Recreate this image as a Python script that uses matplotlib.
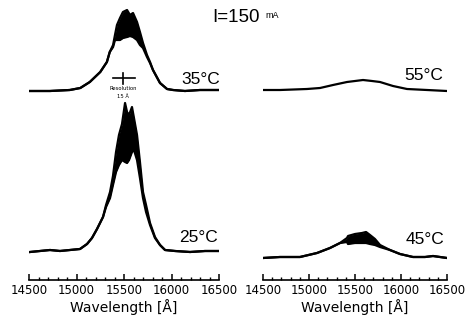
import matplotlib
matplotlib.use('Agg')
import matplotlib.pyplot as plt
from matplotlib.ticker import MultipleLocator

plt.rcParams['font.family'] = ['DejaVu Sans']

# --- data (wavelength in Angstrom, intensity in arb. units) ---
wl_35 = [14510, 14720, 14930, 15040, 15140, 15250, 15320, 15350, 15385, 15405, 15426, 15458, 15489,
         15532, 15563, 15595, 15637, 15668, 15700, 15742, 15774, 15805, 15879, 15953, 16016, 16142, 16300, 16490]
hi_35 = [0, 0, 1, 3, 9, 19, 29, 39, 46, 56, 66, 73, 79, 81, 76, 78, 69, 59, 48, 36, 29, 21, 8, 2, 1, 0, 1, 1]
lo_35 = [0, 0, 1, 3, 9, 19, 29, 39, 44, 51, 51, 51, 53, 54, 55, 54, 51, 46, 43, 34, 28, 21, 8, 2, 1, 0, 1, 1]

wl_25 = [14511, 14721, 14826, 15037, 15111, 15163, 15216, 15279, 15311, 15353, 15384, 15416, 15447, 15479,
         15511, 15532, 15553, 15584, 15605, 15637, 15668, 15700, 15732, 15774, 15826, 15879, 15932, 16037,
         16195, 16353, 16490]
hi_25 = [0, 2, 1, 3, 8, 14, 23, 35, 47, 60, 76, 100, 117, 128, 149, 140, 137, 145, 134, 117, 90, 60, 47,
         29, 15, 7, 2, 1, 0, 1, 1]
lo_25 = [0, 2, 1, 3, 8, 14, 23, 35, 45, 54, 67, 80, 87, 92, 90, 89, 92, 100, 102, 92, 74, 54, 40,
         27, 14, 7, 2, 1, 0, 1, 1]

wl_55 = [14500, 14685, 14978, 15120, 15261, 15413, 15500, 15587, 15685, 15772, 15913, 16065, 16283, 16500]
hi_55 = [0, 0, 1, 2, 5, 8, 9, 10, 9, 8, 4, 1, 0, -1]

wl_45 = [14500, 14685, 14902, 15087, 15228, 15337, 15413, 15424, 15500, 15576, 15620, 15663, 15717, 15772,
         15880, 15989, 16130, 16261, 16348, 16424, 16500]
hi_45 = [0, 1, 1, 5, 10, 15, 20, 22, 24, 25, 26, 23, 19, 13, 8, 4, 1, 1, 2, 1, 0]
lo_45 = [0, 1, 1, 5, 10, 15, 16, 14, 15, 15, 15, 14, 13, 11, 8, 4, 1, 1, 2, 1, 0]

xticks = [14500, 15000, 15500, 16000, 16500]

W, H = 468, 327
fig = plt.figure(figsize=(W / 100, H / 100), dpi=100)


def make_ax(x0, x1):
    ax = fig.add_axes([x0 / W, 1 - 280 / H, (x1 - x0) / W, 280 / H])
    ax.set_xlim(14500, 16500)
    ax.set_ylim(0, 280)
    for s in ['top', 'left', 'right']:
        ax.spines[s].set_visible(False)
    ax.spines['bottom'].set_linewidth(1.2)
    ax.set_yticks([])
    ax.set_xticks(xticks)
    ax.xaxis.set_minor_locator(MultipleLocator(100))
    ax.tick_params(axis='x', which='major', direction='in', length=4, width=1.1, pad=3, labelsize=8.5)
    ax.tick_params(axis='x', which='minor', direction='in', length=2.5, width=1.0)
    ax.set_xlabel('Wavelength [Å]', fontsize=10, labelpad=1)
    ax.patch.set_alpha(0)
    return ax


def spectrum(ax, wl, hi, lo, base):
    up = [v + base for v in hi]
    ax.plot(wl, up, color='black', lw=1.6)
    if lo is not None:
        dn = [v + base for v in lo]
        ax.plot(wl, dn, color='black', lw=1.6)
        ax.fill_between(wl, dn, up, color='black', lw=0)


axl = make_ax(29, 219)
axr = make_ax(263, 447)

spectrum(axl, wl_35, hi_35, lo_35, 189)
spectrum(axl, wl_25, hi_25, lo_25, 28)
spectrum(axr, wl_55, hi_55, None, 190)
spectrum(axr, wl_45, hi_45, lo_45, 22)

lab = dict(ha='right', va='center', fontsize=12.5, family='Liberation Sans')
axl.text(16510, 200, '35°C', **lab)
axl.text(16490, 43, '25°C', **lab)
axr.text(16457, 205, '55°C', **lab)
axr.text(16467, 40, '45°C', **lab)

# resolution marker
axl.plot([15384, 15616], [202, 202], color='black', lw=1.2)
axl.plot([15490, 15490], [196, 207], color='black', lw=1.2)
axl.text(15490, 192, 'Resolution', ha='center', va='center', fontsize=3.8)
axl.text(15490, 184, '15 Å', ha='center', va='center', fontsize=3.8)

fig.text(212 / W, 1 - 18 / H, 'I=150', fontsize=13.5, va='center', ha='left', family='Liberation Sans')
fig.text(265 / W, 1 - 16 / H, 'mA', fontsize=6.5, va='center', ha='left', family='Liberation Sans')

fig.savefig('out.png', dpi=100)
